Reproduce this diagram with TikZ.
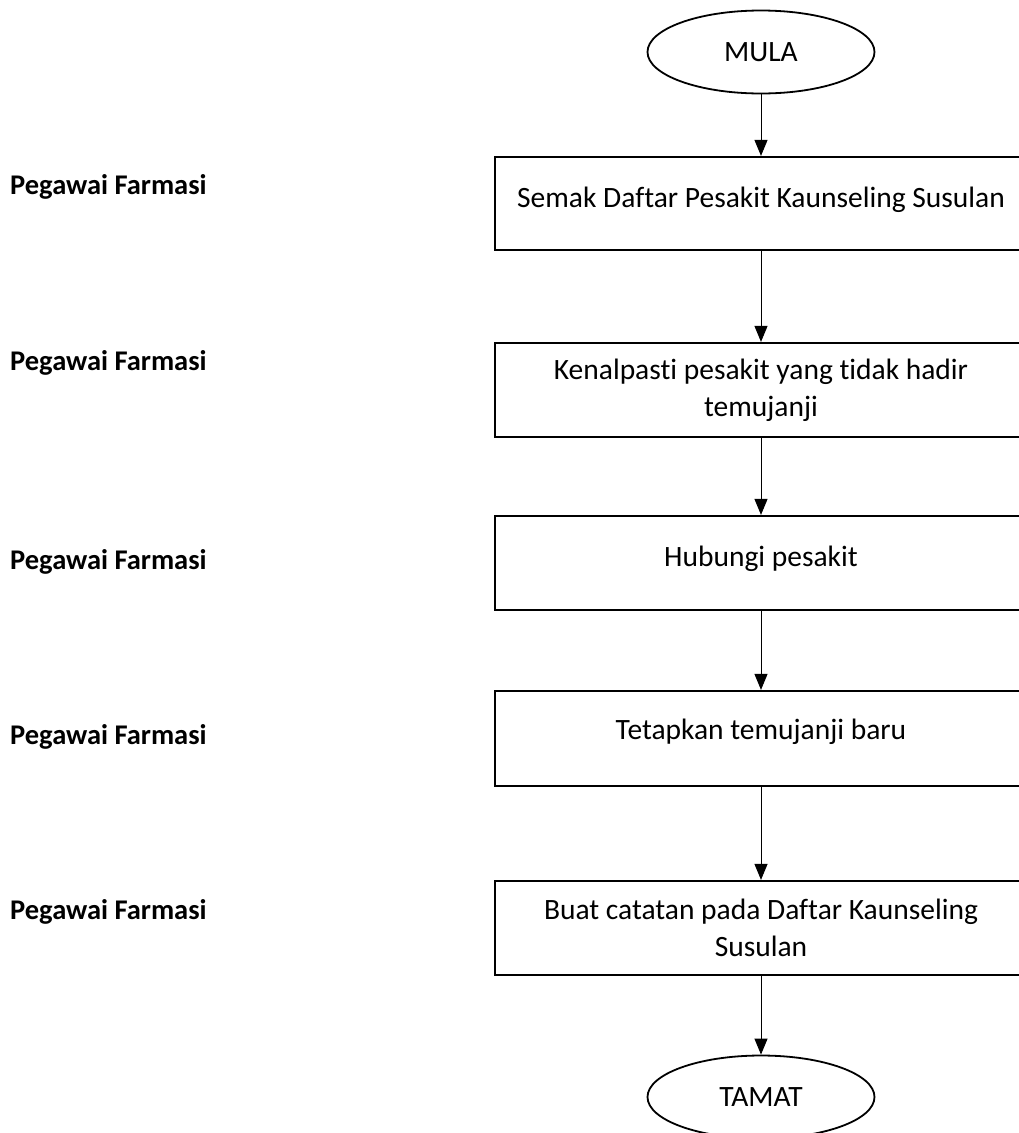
\documentclass[tikz,border=0pt]{standalone}
\usepackage{fontspec}
\setmainfont{Carlito}[Ligatures=NoCommon]
\usetikzlibrary{shapes.geometric,arrows.meta}
\begin{document}
\begin{tikzpicture}[x=1pt,y=-1pt,
 stepbox/.style={draw,line width=2.2pt,minimum width=532pt,align=center,inner sep=0pt,font=\fontsize{29.5}{37}\selectfont},
 term/.style={draw,ellipse,line width=1.8pt,minimum width=227pt,minimum height=83pt,inner sep=0pt,font=\fontsize{29.5}{37}\selectfont},
 conn/.style={-{Triangle[width=13pt,length=16pt]},line width=1pt},
 role/.style={anchor=west,font=\bfseries\fontsize{28.5}{34}\selectfont,inner sep=0pt}]
\useasboundingbox (0,0) rectangle (1019,1133);
\clip (0,0) rectangle (1019,1133);
\fill[white] (0,0) rectangle (1019,1133);
\node[term] (mula) at (761,52) {MULA};
\node[stepbox,minimum height=93pt,text depth=13pt] (s1) at (761,203.5) {Semak Daftar Pesakit Kaunseling Susulan};
\node[stepbox,minimum height=94pt] (s2) at (761,390) {Kenalpasti pesakit yang tidak hadir\\temujanji};
\node[stepbox,minimum height=94pt,text depth=13pt] (s3) at (761,563) {Hubungi pesakit};
\node[stepbox,minimum height=95pt,text depth=19pt] (s4) at (761,738.5) {Tetapkan temujanji baru};
\node[stepbox,minimum height=94pt] (s5) at (761,928) {Buat catatan pada Daftar Kaunseling\\Susulan};
\node[term] (tamat) at (761,1097) {TAMAT};
\draw[conn] (mula) -- (s1);
\draw[conn] (s1) -- (s2);
\draw[conn] (s2) -- (s3);
\draw[conn] (s3) -- (s4);
\draw[conn] (s4) -- (s5);
\draw[conn] (s5) -- (tamat);
\node[role] (r1) at (10,187) {Pegawai Farmasi};
\node[role] (r2) at (10,363) {Pegawai Farmasi};
\node[role] (r3) at (10,562) {Pegawai Farmasi};
\node[role] (r4) at (10,737) {Pegawai Farmasi};
\node[role] (r5) at (10,912) {Pegawai Farmasi};
\end{tikzpicture}
\end{document}
